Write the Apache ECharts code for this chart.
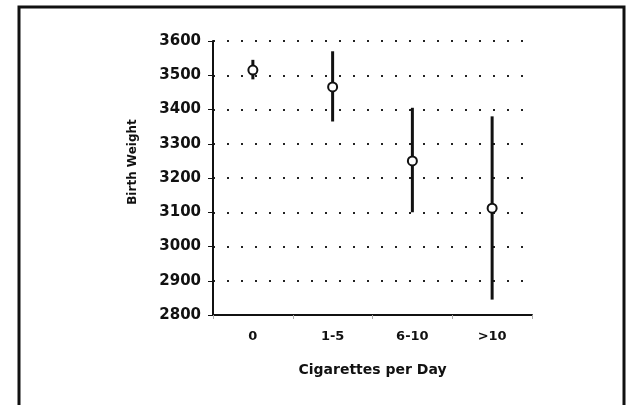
<!DOCTYPE html>
<html>
<head>
<meta charset="utf-8">
<script src="https://cdn.jsdelivr.net/npm/echarts@6/dist/echarts.min.js"></script>
<style>
html,body{margin:0;padding:0;background:#fff;}
#chart{width:629px;height:405px;}
</style>
</head>
<body>
<div id="chart"></div>
<script>
var categories = ['0', '1-5', '6-10', '>10'];
var means = [3515, 3466, 3250, 3112];
var lows = [3488, 3365, 3100, 2845];
var highs = [3545, 3570, 3405, 3380];
var yTicks = [2800, 2900, 3000, 3100, 3200, 3300, 3400, 3500, 3600];

var FONT = 'DejaVu Sans';
var chart = echarts.init(document.getElementById('chart'));
var barData = categories.map(function (c, i) { return [i, lows[i], highs[i]]; });
var meanData = categories.map(function (c, i) { return [i, means[i]]; });

chart.setOption({
  backgroundColor: '#fff',
  animation: false,
  grid: { left: 213, right: 97, top: 41, bottom: 90 },
  xAxis: {
    type: 'category',
    data: categories,
    boundaryGap: true,
    name: 'Cigarettes per Day',
    nameLocation: 'middle',
    nameGap: 48,
    nameTextStyle: { fontFamily: FONT, fontWeight: 'bold', fontSize: 14, color: '#111' },
    axisLine: { lineStyle: { color: '#111', width: 2 } },
    axisTick: { show: true, length: 4, lineStyle: { color: '#aaa', width: 1 } },
    axisLabel: { margin: 15, fontFamily: FONT, fontWeight: 'bold', fontSize: 13, color: '#111' },
    splitLine: { show: false }
  },
  yAxis: {
    type: 'value',
    min: 2800,
    max: 3600,
    interval: 100,
    axisLine: { show: true, lineStyle: { color: '#111', width: 2 } },
    axisTick: { show: true, length: 5, lineStyle: { color: '#111', width: 1 } },
    axisLabel: {
      margin: 12, fontFamily: FONT, fontWeight: 'bold', fontSize: 15, color: '#111',
      formatter: function (v) { return yTicks.indexOf(v) >= 0 ? String(v) : ''; }
    },
    splitLine: { show: true, lineStyle: { color: '#222', width: 2, type: [2, 12] } }
  },
  series: [
    {
      type: 'custom',
      data: barData,
      renderItem: function (params, api) {
        var x = api.coord([api.value(0), api.value(1)]);
        var y = api.coord([api.value(0), api.value(2)]);
        return {
          type: 'line',
          shape: { x1: x[0], y1: x[1], x2: y[0], y2: y[1] },
          style: { stroke: '#111', lineWidth: 3 }
        };
      },
      z: 2
    },
    {
      type: 'scatter',
      data: meanData,
      symbol: 'circle',
      symbolSize: 9,
      itemStyle: { color: '#fff', borderColor: '#111', borderWidth: 2, opacity: 1 },
      z: 3
    }
  ],
  graphic: [
    {
      type: 'text',
      x: 133, y: 162,
      rotation: Math.PI / 2,
      style: {
        text: 'Birth Weight', fontFamily: FONT, fontWeight: 'bold', fontSize: 12,
        fill: '#111', align: 'center', verticalAlign: 'middle'
      }
    },
    {
      type: 'rect',
      shape: { x: 19, y: 7, width: 605, height: 410 },
      style: { fill: 'none', stroke: '#111', lineWidth: 3 },
      z: 10
    }
  ]
});
</script>
</body>
</html>
